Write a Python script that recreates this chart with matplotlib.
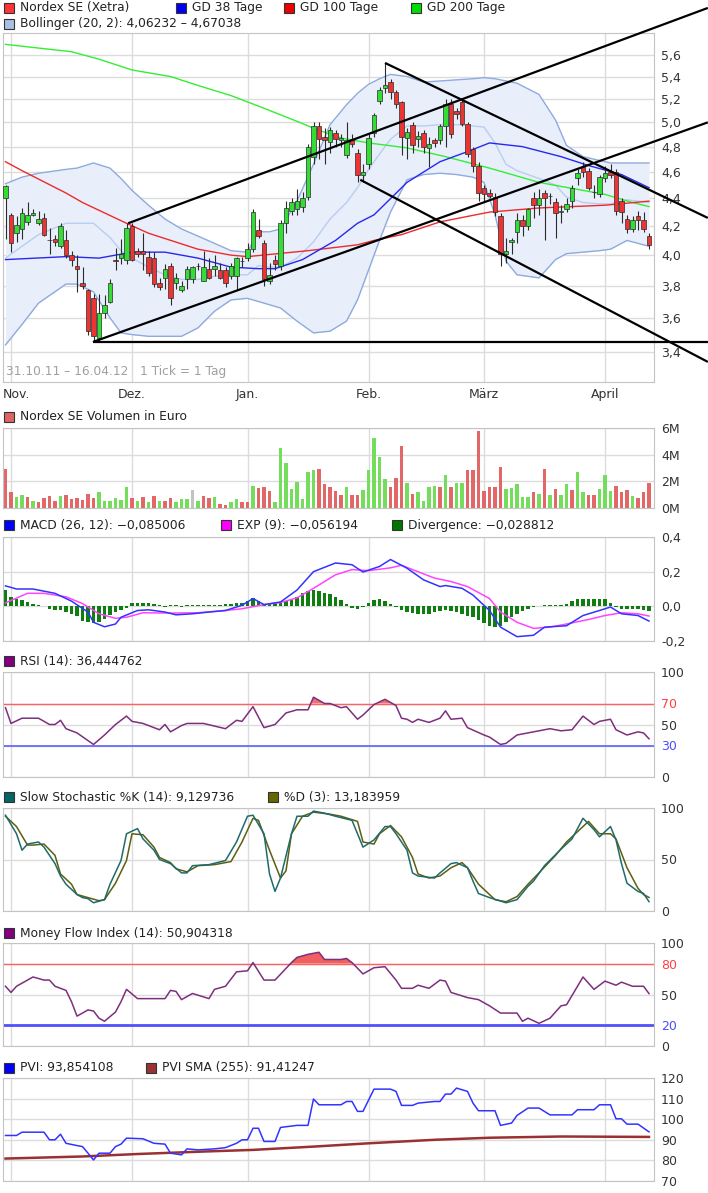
import numpy as np
import matplotlib.pyplot as plt
import matplotlib.transforms as mtransforms
from matplotlib.patches import Rectangle

plt.rcParams['font.family'] = ['DejaVu Sans']

W, H = 708, 1193
L, R = 3, 654

# Handelstage: 0 = 31.10.11 ... 117 = 16.04.12
month_days = [1, 23, 44, 66, 87, 109]
month_labels = ['Nov.', 'Dez.', 'Jan.', 'Feb.', 'März', 'April']

# Kerzen
opens = [4.40, 4.28, 4.15, 4.18, 4.23, 4.28, 4.22, 4.26, 4.10, 4.11,
         4.06, 4.10, 4.00, 3.93, 3.82, 3.77, 3.72, 3.48, 3.63, 3.70,
         3.97, 3.98, 3.97, 4.20, 4.03, 4.03, 3.99, 3.98, 3.82, 3.85,
         3.93, 3.82, 3.77, 3.84, 3.84, 3.93, 3.83, 3.91, 3.91, 3.90,
         3.90, 3.86, 3.86, 3.96, 3.98, 4.04, 4.17, 4.08, 3.83, 3.97,
         3.93, 4.22, 4.31, 4.32, 4.34, 4.41, 4.72, 4.97, 4.88, 4.84,
         4.91, 4.85, 4.73, 4.86, 4.75, 4.58, 4.66, 4.91, 5.18, 5.30,
         5.35, 5.26, 5.17, 4.87, 4.98, 4.86, 4.91, 4.79, 4.85, 4.85,
         4.97, 5.16, 5.10, 5.17, 4.99, 4.78, 4.65, 4.48, 4.44, 4.41,
         4.27, 4.01, 4.09, 4.16, 4.24, 4.20, 4.40, 4.35, 4.44, 4.42,
         4.37, 4.30, 4.32, 4.38, 4.55, 4.64, 4.61, 4.45, 4.43, 4.55,
         4.60, 4.60, 4.38, 4.25, 4.18, 4.27, 4.24, 4.13]
highs = [4.50, 4.29, 4.27, 4.33, 4.37, 4.32, 4.31, 4.29, 4.19, 4.14,
         4.22, 4.17, 4.03, 4.00, 3.92, 3.78, 3.75, 3.75, 3.74, 3.84,
         4.05, 4.11, 4.22, 4.22, 4.05, 4.15, 4.03, 4.02, 3.85, 3.94,
         3.95, 3.88, 3.83, 3.93, 3.93, 3.95, 4.03, 3.98, 4.00, 3.95,
         3.92, 3.95, 3.99, 3.99, 4.08, 4.32, 4.25, 4.10, 3.95, 4.00,
         4.24, 4.38, 4.40, 4.47, 4.45, 4.82, 5.00, 5.00, 4.95, 4.96,
         4.94, 4.90, 5.00, 4.90, 4.78, 4.66, 4.90, 5.08, 5.31, 5.52,
         5.38, 5.28, 5.18, 4.95, 5.00, 4.93, 4.94, 4.88, 4.87, 4.99,
         5.20, 5.20, 5.12, 5.20, 5.00, 4.80, 4.68, 4.50, 4.47, 4.44,
         4.29, 4.12, 4.12, 4.29, 4.28, 4.33, 4.45, 4.47, 4.46, 4.44,
         4.40, 4.35, 4.40, 4.50, 4.62, 4.68, 4.63, 4.50, 4.58, 4.65,
         4.66, 4.62, 4.40, 4.28, 4.27, 4.31, 4.30, 4.15]
lows = [4.11, 4.02, 4.09, 4.11, 4.21, 4.27, 4.21, 4.13, 4.01, 4.06,
        4.05, 3.98, 3.93, 3.76, 3.78, 3.50, 3.46, 3.46, 3.60, 3.69,
        3.90, 3.94, 3.94, 3.96, 3.99, 3.90, 3.86, 3.79, 3.77, 3.78,
        3.68, 3.78, 3.76, 3.78, 3.82, 3.90, 3.83, 3.84, 3.86, 3.84,
        3.79, 3.84, 3.77, 3.92, 3.96, 4.02, 4.12, 3.80, 3.81, 3.90,
        3.90, 4.15, 4.28, 4.28, 4.30, 4.39, 4.66, 4.70, 4.66, 4.75,
        4.80, 4.80, 4.71, 4.80, 4.52, 4.52, 4.62, 4.88, 5.16, 5.25,
        5.20, 5.12, 4.73, 4.70, 4.75, 4.80, 4.75, 4.64, 4.80, 4.82,
        4.80, 4.87, 5.03, 4.97, 4.72, 4.60, 4.38, 4.38, 4.40, 4.27,
        3.93, 3.95, 4.01, 4.08, 4.13, 4.17, 4.26, 4.28, 4.10, 4.36,
        4.12, 4.22, 4.30, 4.33, 4.50, 4.56, 4.46, 4.40, 4.41, 4.52,
        4.55, 4.28, 4.22, 4.15, 4.16, 4.17, 4.16, 4.04]
closes = [4.49, 4.08, 4.21, 4.29, 4.28, 4.29, 4.25, 4.14, 4.10, 4.09,
          4.20, 4.00, 3.97, 3.91, 3.80, 3.52, 3.49, 3.63, 3.68, 3.82,
          3.96, 4.01, 4.19, 3.97, 4.01, 4.01, 3.88, 3.81, 3.79, 3.91,
          3.72, 3.85, 3.80, 3.91, 3.92, 3.93, 3.92, 3.85, 3.93, 3.85,
          3.82, 3.93, 3.98, 3.96, 4.04, 4.30, 4.13, 3.84, 3.87, 3.94,
          4.22, 4.33, 4.37, 4.38, 4.40, 4.80, 4.97, 4.86, 4.85, 4.94,
          4.86, 4.87, 4.85, 4.82, 4.58, 4.60, 4.87, 5.06, 5.28, 5.32,
          5.26, 5.16, 4.88, 4.92, 4.81, 4.89, 4.80, 4.82, 4.83, 4.97,
          5.16, 4.90, 5.07, 4.99, 4.74, 4.65, 4.44, 4.43, 4.42, 4.30,
          4.01, 4.03, 4.10, 4.24, 4.20, 4.32, 4.35, 4.40, 4.40, 4.42,
          4.29, 4.31, 4.36, 4.48, 4.59, 4.60, 4.48, 4.45, 4.56, 4.59,
          4.58, 4.31, 4.30, 4.18, 4.24, 4.24, 4.18, 4.07]

# Gleitende Durchschnitte
gd38_day = [0, 11, 17, 23, 29, 35, 41, 46, 49, 54, 60, 64, 67, 73, 79, 84, 88, 94, 101, 106, 112, 117]
gd38_val = [3.97, 3.99, 3.98, 4.02, 4.02, 3.98, 3.92, 3.91, 3.91, 3.97, 4.10, 4.22, 4.28, 4.52,
            4.68, 4.76, 4.83, 4.80, 4.72, 4.65, 4.58, 4.48]
gd100_day = [0, 3, 11, 14, 22, 26, 35, 41, 44, 55, 64, 67, 72, 79, 88, 97, 109, 117]
gd100_val = [4.68, 4.61, 4.44, 4.37, 4.22, 4.15, 4.04, 4.00, 3.99, 4.03, 4.07, 4.10, 4.14, 4.23,
             4.30, 4.33, 4.35, 4.38]
gd200_day = [0, 12, 17, 23, 30, 35, 41, 47, 54, 56, 61, 66, 73, 80, 88, 97, 109, 114, 117]
gd200_val = [5.70, 5.63, 5.56, 5.46, 5.40, 5.32, 5.23, 5.12, 4.99, 4.95, 4.87, 4.83, 4.79, 4.72,
             4.63, 4.52, 4.43, 4.37, 4.34]

# Bollinger (20, 2)
bb_day = [0, 3, 6, 11, 13, 16, 19, 21, 23, 26, 29, 32, 35, 38, 41, 44, 46, 48, 50, 53, 56, 59,
          62, 64, 66, 68, 70, 73, 76, 79, 82, 85, 87, 89, 91, 93, 97, 100, 102, 105, 108, 110,
          113, 117]
bb_upper = [4.51, 4.56, 4.59, 4.62, 4.63, 4.67, 4.63, 4.55, 4.46, 4.35, 4.25, 4.18, 4.13, 4.08,
            4.03, 4.02, 4.16, 4.16, 4.18, 4.38, 4.66, 4.98, 5.15, 5.25, 5.33, 5.38, 5.42, 5.40,
            5.35, 5.36, 5.37, 5.38, 5.39, 5.38, 5.36, 5.34, 5.24, 5.02, 4.81, 4.72, 4.69, 4.67,
            4.67, 4.67]
bb_mid = [3.98, 4.06, 4.14, 4.22, 4.22, 4.22, 4.12, 4.03, 3.98, 3.92, 3.87, 3.84, 3.84, 3.86,
          3.87, 3.87, 3.93, 3.92, 3.92, 3.98, 4.09, 4.25, 4.37, 4.48, 4.62, 4.74, 4.86, 4.97,
          4.97, 4.98, 4.98, 4.97, 4.96, 4.83, 4.66, 4.61, 4.55, 4.50, 4.41, 4.37, 4.36, 4.36,
          4.39, 4.37]
bb_lower = [3.44, 3.56, 3.69, 3.81, 3.81, 3.76, 3.60, 3.51, 3.50, 3.49, 3.49, 3.49, 3.54, 3.64,
            3.71, 3.72, 3.70, 3.68, 3.66, 3.58, 3.51, 3.52, 3.58, 3.71, 3.90, 4.10, 4.30, 4.54,
            4.58, 4.59, 4.58, 4.56, 4.52, 4.28, 3.96, 3.87, 3.85, 3.97, 4.01, 4.02, 4.03, 4.04,
            4.10, 4.06]

# Trendlinien (Tag, Kurs) -> (Tag, Kurs)
trend_lines = [((15.9, 3.457), (127.7, 3.457)),
               ((15.9, 3.457), (127.7, 5.00)),
               ((22.3, 4.22), (127.7, 6.06)),
               ((69.0, 5.525), (127.7, 4.258)),
               ((64.5, 4.54), (127.7, 3.343))]
price_ticks = [3.4, 3.6, 3.8, 4.0, 4.2, 4.4, 4.6, 4.8, 5.0, 5.2, 5.4, 5.6]

# Volumen (Mio. Euro), r = rot, g = gruen, x = grau
volume = [2.95, 1.17, 0.80, 1.00, 0.83, 0.55, 0.47, 0.73, 0.91, 0.55,
          0.91, 1.00, 0.65, 0.73, 0.60, 1.04, 0.73, 1.17, 0.55, 0.55,
          0.73, 0.60, 1.57, 0.73, 0.52, 0.86, 0.47, 0.91, 0.52, 0.55,
          0.73, 0.47, 0.65, 0.65, 1.33, 0.55, 0.91, 0.78, 0.86, 0.29,
          0.21, 0.47, 0.65, 0.47, 0.47, 1.64, 1.50, 1.57, 1.30, 0.47,
          4.50, 3.40, 1.46, 1.96, 0.65, 2.69, 2.87, 2.95, 1.78, 1.57,
          1.25, 0.94, 1.57, 0.94, 1.00, 1.38, 2.82, 5.22, 3.81, 2.17,
          1.57, 2.25, 4.65, 1.91, 1.04, 1.17, 0.55, 1.57, 1.64, 1.57,
          2.50, 1.57, 1.91, 1.91, 2.87, 2.87, 5.74, 1.30, 1.57, 1.57,
          3.08, 1.46, 1.50, 1.78, 0.86, 0.86, 1.17, 1.04, 2.95, 0.94,
          1.46, 1.00, 1.78, 1.38, 2.69, 1.17, 1.00, 0.94, 1.46, 2.50,
          1.25, 1.64, 1.17, 1.33, 0.91, 0.78, 1.17, 1.91]
volume_dir = ("rrggrgrrrr" "grrrrrrggg" "gggrgrgrgr" "rgggxgrrgr"
              "rggrrgrrrg" "gggggggrrr" "rrgrrggggg" "rrrgrggggr"
              "grggrrrrrr" "rgggggrgrg" "rggrggrrgg" "grrrgrrr")

# MACD
macd_day = [0, 2, 5, 9, 12, 15, 16, 18, 20, 21, 24, 26, 29, 31, 34, 37, 40, 43, 45, 47, 50, 53,
            56, 60, 63, 65, 68, 70, 73, 76, 79, 80, 83, 85, 88, 90, 93, 96, 98, 102, 105, 108,
            110, 112, 115, 117]
macd_val = [0.118, 0.10, 0.10, 0.075, 0.03, -0.033, -0.092, -0.118, -0.102, -0.063, -0.024,
            -0.02, -0.033, -0.049, -0.043, -0.033, -0.024, 0.006, 0.045, 0.01, 0.025, 0.094,
            0.20, 0.25, 0.24, 0.198, 0.23, 0.27, 0.22, 0.153, 0.114, 0.12, 0.104, 0.065, -0.024,
            -0.12, -0.175, -0.167, -0.12, -0.112, -0.053, -0.024, -0.004, -0.043, -0.053, -0.085]
exp_day = [0, 4, 7, 11, 14, 17, 20, 22, 25, 30, 35, 40, 43, 47, 50, 53, 56, 60, 63, 66, 70, 72,
           74, 78, 81, 84, 88, 90, 93, 96, 99, 102, 106, 109, 112, 115, 117]
exp_val = [0.02, 0.075, 0.075, 0.055, 0.016, -0.043, -0.069, -0.063, -0.037, -0.039, -0.037,
           -0.024, -0.014, 0.01, 0.022, 0.049, 0.104, 0.182, 0.212, 0.206, 0.222, 0.237, 0.212,
           0.163, 0.143, 0.114, 0.045, -0.033, -0.092, -0.127, -0.12, -0.102, -0.076, -0.053,
           -0.037, -0.043, -0.056]
divergence = [0.094, 0.055, 0.041, 0.035, 0.025, 0.016, 0.006, 0.0, -0.014, -0.02,
              -0.024, -0.033, -0.043, -0.053, -0.082, -0.088, -0.096, -0.088, -0.073, -0.049,
              -0.033, -0.02, -0.01, 0.022, 0.022, 0.022, 0.022, 0.016, 0.01, -0.004,
              0.006, 0.006, -0.004, 0.01, 0.01, 0.01, 0.01, 0.01, 0.01, 0.01,
              0.016, 0.016, 0.022, 0.022, 0.03, 0.049, 0.03, 0.014, 0.014, 0.022,
              0.022, 0.03, 0.041, 0.055, 0.075, 0.088, 0.094, 0.088, 0.078, 0.069,
              0.055, 0.035, 0.016, -0.01, -0.018, -0.004, 0.022, 0.035, 0.041, 0.03,
              0.016, -0.004, -0.024, -0.033, -0.039, -0.043, -0.047, -0.047, -0.033, -0.029,
              -0.024, -0.027, -0.033, -0.043, -0.053, -0.063, -0.076, -0.096, -0.112, -0.122,
              -0.116, -0.092, -0.063, -0.043, -0.029, -0.018, -0.004, 0.0, 0.01, 0.01,
              0.01, 0.01, 0.016, 0.03, 0.041, 0.045, 0.045, 0.041, 0.041, 0.041,
              0.022, -0.004, -0.018, -0.018, -0.018, -0.018, -0.02, -0.029]

# RSI (14)
rsi_day = [0, 1, 3, 6, 8, 9, 10, 11, 13, 16, 18, 20, 22, 23, 25, 28, 29, 30, 32, 33, 36, 40, 42,
           43, 45, 47, 49, 51, 53, 55, 56, 58, 59, 61, 62, 64, 65, 67, 69, 71, 72, 73, 74, 75,
           77, 79, 80, 81, 83, 84, 87, 88, 90, 91, 93, 95, 97, 99, 101, 103, 105, 107, 108, 110,
           111, 113, 115, 116, 117]
rsi_val = [66, 51, 56, 56, 50, 50, 54, 46, 42, 31, 40, 50, 58, 53, 51, 45, 50, 43, 49, 51, 51,
           46, 54, 53, 67, 47, 50, 61, 64, 64, 76, 70, 70, 66, 67, 55, 59, 69, 74, 68, 56, 55,
           52, 55, 52, 56, 63, 55, 56, 47, 40, 38, 31, 32, 40, 42, 44, 46, 44, 45, 58, 50, 53,
           55, 45, 40, 43, 42, 36.4]

# Slow Stochastic
stk_day = [0, 2, 3, 4, 6, 7, 9, 10, 11, 13, 14, 15, 16, 18, 19, 21, 22, 24, 25, 27, 28, 30, 32,
           33, 34, 37, 40, 42, 44, 45, 47, 48, 49, 50, 52, 53, 55, 56, 58, 60, 63, 64, 65, 67,
           69, 70, 71, 73, 74, 75, 78, 79, 81, 82, 84, 85, 86, 88, 91, 93, 95, 96, 98, 101, 103,
           104, 105, 107, 108, 110, 111, 112, 113, 115, 116, 117]
stk_val = [93, 75, 59, 65, 67, 62, 46, 34, 26, 16, 13, 12, 8, 11, 26, 49, 75, 80, 70, 59, 50,
           46, 37, 37, 44, 45, 49, 67, 92, 93, 75, 36, 19, 32, 75, 92, 92, 97, 95, 92, 88, 75,
           62, 69, 82, 82, 75, 59, 37, 34, 32, 37, 46, 47, 42, 29, 17, 13, 8, 11, 24, 29, 44,
           60, 70, 80, 90, 79, 72, 82, 69, 46, 27, 19, 17, 9.1]
std_day = [0, 2, 4, 5, 7, 9, 10, 12, 13, 15, 17, 18, 20, 22, 23, 25, 27, 28, 30, 31, 33, 35, 38,
           41, 43, 45, 46, 48, 50, 51, 52, 54, 56, 59, 61, 64, 65, 67, 68, 70, 72, 74, 75, 77,
           79, 81, 83, 84, 86, 88, 89, 91, 93, 95, 97, 100, 102, 104, 106, 108, 110, 111, 113,
           115, 116, 117]
std_val = [92, 82, 64, 64, 65, 54, 36, 26, 16, 13, 10, 11, 27, 49, 75, 74, 62, 52, 47, 41, 38,
           44, 45, 48, 67, 90, 88, 59, 32, 39, 75, 92, 96, 94, 92, 87, 67, 65, 75, 83, 72, 52,
           36, 32, 34, 42, 47, 42, 26, 16, 11, 9, 14, 26, 37, 54, 67, 77, 87, 75, 75, 70, 42,
           22, 16, 13.2]

# Money Flow Index (14)
mfi_day = [0, 1, 2, 5, 7, 8, 9, 11, 12, 13, 15, 16, 17, 18, 20, 21, 22, 24, 26, 29, 30, 31, 32,
           34, 37, 38, 40, 42, 44, 45, 47, 49, 52, 53, 55, 57, 58, 61, 62, 63, 65, 67, 69, 71,
           72, 74, 75, 77, 79, 80, 81, 84, 86, 88, 90, 93, 94, 95, 97, 99, 101, 102, 105, 107,
           109, 111, 112, 114, 116, 117]
mfi_val = [58, 52, 58, 67, 64, 64, 58, 54, 43, 29, 35, 34, 27, 24, 33, 43, 55, 46, 46, 46, 54,
           53, 45, 51, 46, 55, 58, 72, 73, 81, 64, 64, 81, 86, 89, 91, 84, 84, 85, 81, 70, 76,
           77, 64, 56, 56, 59, 56, 64, 63, 52, 47, 45, 39, 32, 32, 24, 27, 22, 27, 39, 40, 67,
           55, 63, 59, 62, 58, 58, 50.9]

# PVI
pvi_day = [0, 2, 3, 7, 8, 9, 10, 11, 13, 14, 15, 16, 17, 19, 20, 21, 22, 25, 27, 29, 30, 32, 33,
           35, 38, 40, 42, 43, 44, 45, 46, 47, 49, 50, 53, 55, 56, 57, 61, 62, 63, 64, 65, 67,
           70, 71, 72, 74, 75, 78, 79, 80, 81, 82, 84, 85, 86, 89, 90, 92, 93, 95, 97, 99, 103,
           104, 107, 108, 110, 111, 112, 113, 115, 117]
pvi_val = [92.1, 92.1, 93.7, 93.7, 90, 90, 92.7, 88.3, 87.2, 86.7, 83.5, 80.2, 83.5, 83.5, 86.7,
           87.9, 90.8, 90.5, 88.3, 87.9, 83.5, 82.7, 85.6, 85.1, 85.6, 86.2, 88.3, 90, 90, 95.6,
           95.6, 89.2, 89.2, 96, 97, 97, 109.8, 107, 107, 108.6, 108.6, 103.8, 103.8, 114.6,
           114.6, 113.5, 106.7, 106.7, 107.8, 108.6, 108.6, 112.2, 112.2, 115.1, 113.5, 107.8,
           104.1, 104.1, 97, 98.1, 101.8, 105.4, 105.4, 102.1, 102.1, 104.6, 104.6, 107, 107,
           100.2, 100.2, 97.6, 97.6, 93.85]
pvi_sma_day = [0, 14, 24, 36, 45, 56, 66, 78, 88, 101, 117]
pvi_sma_val = [80.9, 81.9, 83.1, 84.3, 85.1, 86.7, 88.3, 90.0, 91.0, 91.6, 91.4]

XMIN = (L - 5.5) / 5.5
XMAX = (R - 5.5) / 5.5
FS = 8.8


def panel(top, bottom):
    return fig.add_axes([L / W, 1 - bottom / H, (R - L) / W, (bottom - top) / H])


def style(ax, ticks, labels, lim):
    ax.set_xlim(XMIN, XMAX)
    ax.set_ylim(*lim)
    ax.set_xticks(month_days)
    ax.set_xticklabels([])
    ax.set_yticks(ticks)
    ax.set_yticklabels(labels)
    ax.minorticks_off()
    ax.yaxis.tick_right()
    ax.tick_params(length=0, labelsize=9, labelcolor='#333333', pad=5)
    ax.grid(True, color='#dcdcdc', lw=1)
    ax.set_axisbelow(True)
    for s in ax.spines.values():
        s.set_color('#c4c4c4')


fig = plt.figure(figsize=(W / 100, H / 100), dpi=100)

# ---- Kurschart ----
ax = panel(33, 382)
ax.set_yscale('log')
style(ax, price_ticks, [f'{t:.1f}'.replace('.', ',') for t in price_ticks], (3.232, 5.81))

# Monatsbeschriftung unter dem Kurschart (erste linksbuendig, damit sie nicht abgeschnitten wird)
xlab_tr = mtransforms.blended_transform_factory(ax.transData, ax.transAxes)
for k, (d, lab) in enumerate(zip(month_days, month_labels)):
    if k == 0:
        ax.text(XMIN, -0.036, lab, transform=xlab_tr, ha='left', va='center',
                fontsize=9, color='#333333')
    else:
        ax.text(d, -0.036, lab, transform=xlab_tr, ha='center', va='center',
                fontsize=9, color='#333333')

ax.fill_between(bb_day, bb_lower, bb_upper, color='#e8effb', lw=0, zorder=1)
ax.plot(bb_day, bb_upper, color='#8eaade', lw=1, zorder=1.5)
ax.plot(bb_day, bb_lower, color='#8eaade', lw=1, zorder=1.5)
ax.plot(bb_day, bb_mid, color='#b9cdf0', lw=1, zorder=1.5)
ax.plot(gd200_day, gd200_val, color='#33ee33', lw=1, zorder=2)
ax.plot(gd100_day, gd100_val, color='#ee2a2a', lw=1, zorder=2)
ax.plot(gd38_day, gd38_val, color='#2828ee', lw=1, zorder=2)

o, h, lo, c = map(np.array, (opens, highs, lows, closes))
days = np.arange(len(c))
body_lo = np.minimum(o, c)
body_hi = np.maximum(o, c)
cols = np.where(c > o, '#33dd33', np.where(c < o, '#ee3333', '#333333'))
ax.vlines(days, lo, h, color='#2b2b2b', lw=0.8, zorder=4)
ax.bar(days, body_hi - body_lo, bottom=body_lo, width=0.74, color=cols,
       edgecolor='#2b2b2b', lw=0.5, zorder=5)

for (x0, y0), (x1, y1) in trend_lines:
    ax.plot([x0, x1], [y0, y1], color='black', lw=1.6, clip_on=False, zorder=6,
            solid_capstyle='butt')

ax.text(0.005, 0.03, '31.10.11 – 16.04.12   1 Tick = 1 Tag', transform=ax.transAxes,
        fontsize=FS, color='#a0a0a0', va='center')

# ---- Volumen ----
ax = panel(428, 508)
style(ax, [0, 2, 4, 6], ['0M', '2M', '4M', '6M'], (0, 6))
vcol = {'r': '#e26868', 'g': '#74de5c', 'x': '#c2c2c2'}
ax.bar(np.arange(len(volume)), volume, width=0.62, color=[vcol[d] for d in volume_dir], zorder=2)

# ---- MACD ----
ax = panel(537, 641)
style(ax, [-0.2, 0, 0.2, 0.4], ['-0,2', '0,0', '0,2', '0,4'], (-0.2, 0.4))
ax.bar(np.arange(len(divergence)), divergence, width=0.7, color='#0f7d0f', zorder=2)
ax.plot(exp_day, exp_val, color='#ff44ff', lw=1.1, zorder=3)
ax.plot(macd_day, macd_val, color='#3333ff', lw=1.1, zorder=3)

# ---- RSI ----
ax = panel(672, 777)
style(ax, [0, 30, 50, 70, 100], ['0', '30', '50', '70', '100'], (0, 100))
ax.axhline(70, color='#ff6060', lw=1, zorder=2)
ax.axhline(30, color='#6060ff', lw=1.2, zorder=2)
rv = np.array(rsi_val)
ax.fill_between(rsi_day, rv, 70, where=rv > 70, interpolate=True, color='#f07070', lw=0, zorder=2)
ax.plot(rsi_day, rsi_val, color='#7d2f7d', lw=1.1, zorder=3)
for t in ax.get_yticklabels():
    if t.get_text() == '70':
        t.set_color('#ff4040')
    if t.get_text() == '30':
        t.set_color('#4d4dff')

# ---- Slow Stochastic ----
ax = panel(808, 911)
style(ax, [0, 50, 100], ['0', '50', '100'], (0, 100))
ax.plot(std_day, std_val, color='#5e5e10', lw=1.1, zorder=3)
ax.plot(stk_day, stk_val, color='#1f6b6b', lw=1.1, zorder=3)

# ---- Money Flow Index ----
ax = panel(943, 1046)
style(ax, [0, 20, 50, 80, 100], ['0', '20', '50', '80', '100'], (0, 100))
ax.axhline(80, color='#ff6060', lw=1, zorder=2)
ax.axhline(20, color='#5050ff', lw=2, zorder=2)
mv = np.array(mfi_val)
ax.fill_between(mfi_day, mv, 80, where=mv > 80, interpolate=True, color='#f06060', lw=0, zorder=2)
ax.plot(mfi_day, mfi_val, color='#7d2f7d', lw=1.1, zorder=3)
for t in ax.get_yticklabels():
    if t.get_text() == '80':
        t.set_color('#ff4040')
    if t.get_text() == '20':
        t.set_color('#4d4dff')

# ---- PVI ----
ax = panel(1078, 1181)
pvi_ticks = [70, 80, 90, 100, 110, 120]
style(ax, pvi_ticks, [str(t) for t in pvi_ticks], (70, 120))
ax.plot(pvi_sma_day, pvi_sma_val, color='#9b3030', lw=1.8, zorder=2)
ax.plot(pvi_day, pvi_val, color='#3333ff', lw=1.1, zorder=3)

# ---- Legenden ----
ov = fig.add_axes([0, 0, 1, 1])
ov.set_xlim(0, W)
ov.set_ylim(H, 0)
ov.axis('off')
legend_items = [
    (4, 8, '#ff3333', 'Nordex SE (Xetra)'),
    (176, 8, '#0000ee', 'GD 38 Tage'),
    (284, 8, '#ee0000', 'GD 100 Tage'),
    (411, 8, '#00dd00', 'GD 200 Tage'),
    (4, 24, '#a9bfe6', 'Bollinger (20, 2): 4,06232 – 4,67038'),
    (4, 417, '#e06464', 'Nordex SE Volumen in Euro'),
    (4, 525, '#0000ff', 'MACD (26, 12): −0,085006'),
    (221, 525, '#ff00ff', 'EXP (9): −0,056194'),
    (392, 525, '#007700', 'Divergence: −0,028812'),
    (4, 661, '#800080', 'RSI (14): 36,444762'),
    (4, 797, '#006666', 'Slow Stochastic %K (14): 9,129736'),
    (268, 797, '#666600', '%D (3): 13,183959'),
    (4, 933, '#800080', 'Money Flow Index (14): 50,904318'),
    (4, 1068, '#0000ff', 'PVI: 93,854108'),
    (146, 1068, '#993333', 'PVI SMA (255): 91,41247'),
]
for x, y, col, txt in legend_items:
    ov.add_patch(Rectangle((x, y - 5), 10, 10, facecolor=col, edgecolor='#333333', lw=0.8))
    ov.text(x + 16, y, txt, fontsize=FS, va='center', ha='left', color='#222222')

fig.savefig('out.png', dpi=100)
